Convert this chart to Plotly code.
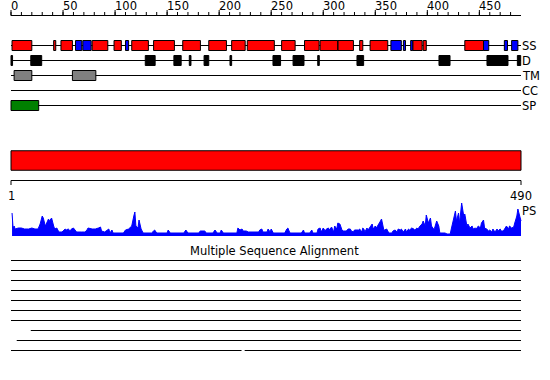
import plotly.graph_objects as go

SEQ_LEN = 490

# ---------------- data (residue positions) ----------------
ss_helix = [(1, 20), (41, 43), (48, 59), (78, 93), (99, 106), (116, 132), (137, 157),
            (165, 182), (190, 207), (212, 225), (227, 253), (260, 273), (282, 296),
            (297, 314), (314, 329), (335, 338), (345, 362), (386, 395), (396, 399),
            (436, 454)]
ss_strand = [(62, 68), (69, 77), (110, 113), (365, 375), (377, 379), (384, 386),
             (454, 459), (474, 477), (481, 487)]
disorder = [(0, 1.5), (19, 29.5), (129, 138.5), (156.5, 163.5), (171.3, 172.9),
            (185.5, 190), (210.4, 212), (251.7, 259), (271, 281.5), (294.7, 296.2),
            (332.4, 338.8), (411.2, 421.8), (457.3, 477.5), (486.5, 489.7)]
transmembrane = [(3, 20), (59, 81.5)]
coiled_coil = []
signal_peptide = [(0, 26.6)]
domains = [(0, 490)]

ruler_major = [0, 50, 100, 150, 200, 250, 300, 350, 400, 450]
ruler_minor = list(range(0, 490, 10))
track_labels = ["SS", "D", "TM", "CC", "SP"]

ps_res = [1, 2, 3, 4, 7, 10, 13, 17, 20, 23, 26, 28, 30, 31, 33, 34, 36, 37, 39, 41,
          42, 44, 46, 49, 52, 53, 55, 57, 58, 60, 63, 68, 71, 73, 74, 78, 81, 84, 86, 87,
          90, 94, 95, 97, 98, 108, 110, 113, 114, 116, 118, 119, 120, 122, 123, 125, 127,
          135, 137, 138, 140, 150, 151, 153, 166, 168, 170, 180, 182, 186, 188, 194, 196,
          198, 201, 202, 204, 217, 218, 220, 222, 223, 226, 228, 238, 239, 241, 242, 246,
          247, 249, 250, 252, 263, 265, 266, 268, 279, 281, 282, 287, 289, 290, 294, 295,
          297, 298, 300, 302, 303, 305, 306, 308, 310, 311, 313, 314, 316, 318, 319, 322,
          324, 326, 327, 329, 330, 334, 335, 337, 338, 339, 340, 342, 343, 345, 347, 348,
          350, 351, 353, 355, 356, 358, 359, 361, 363, 366, 367, 369, 371, 372, 374, 375,
          377, 379, 380, 382, 383, 385, 387, 388, 390, 391, 393, 395, 396, 398, 399, 401,
          403, 404, 406, 407, 409, 411, 412, 417, 419, 422, 423, 425, 427, 428, 430, 431,
          433, 435, 436, 438, 439, 441, 443, 444, 446, 447, 449, 451, 452, 454, 455, 457,
          459, 460, 462, 463, 465, 467, 468, 470, 471, 473, 475, 476, 478, 479, 481, 483,
          484, 486, 487, 489, 490]
ps_val = [23, 8, 10, 7, 8, 8, 7, 7, 8, 7, 7, 12, 20, 18, 10, 13, 17, 15, 18, 10,
          7, 8, 4, 4, 7, 6, 7, 5, 7, 8, 4, 4, 4, 6, 8, 7, 7, 8, 9, 5,
          4, 7, 3, 6, 3, 3, 6, 7, 8, 10, 20, 24, 10, 8, 16, 7, 3,
          3, 5, 6, 3, 3, 6, 3, 3, 6, 3, 3, 5, 5, 3, 3, 6,
          3, 3, 6, 3, 3, 8, 6, 7, 5, 5, 4, 4, 6, 7, 4, 4,
          7, 4, 7, 3, 3, 7, 8, 3, 3, 6, 3, 3, 6, 3, 3, 7,
          8, 4, 8, 5, 7, 8, 6, 9, 4, 10, 7, 13, 12, 6, 5, 5,
          7, 7, 5, 4, 6, 6, 7, 4, 8, 7, 4, 8, 6, 9, 12, 7,
          10, 8, 11, 15, 17, 7, 6, 7, 3, 3, 5, 6, 4, 7, 6, 7,
          4, 7, 4, 7, 6, 8, 7, 6, 8, 7, 10, 12, 15, 10, 21, 13,
          18, 10, 7, 8, 15, 10, 3, 3, 2, 2, 7, 18, 25, 15, 23, 13,
          33, 20, 22, 10, 12, 8, 10, 7, 8, 7, 10, 8, 13, 16, 8, 7,
          5, 6, 4, 7, 4, 7, 5, 7, 5, 5, 8, 10, 7, 10, 8, 9,
          13, 20, 27, 20, 15]

msa_rows = [[(0, 490)]] * 7 + [[(19, 490)], [(5.5, 490)], [(0, 221.5), (224.5, 490)]]

# ---------------- layout constants (pixels) ----------------
W, H = 550, 380
X0_PX, PX_PER_RES = 11, 510 / 490
XR = [(0 - X0_PX) / PX_PER_RES, (W - X0_PX) / PX_PER_RES]
FONT = dict(family="DejaVu Sans", size=11.5, color="black")

row_y = {"SS": 45.5, "D": 60.5, "TM": 75.5, "CC": 90.5, "SP": 105.5}
BOX_H = 10

fig = go.Figure()


def seg_trace(segs, color="black", width=1):
    xs, ys = [], []
    for (xa, ya, xb, yb) in segs:
        xs += [xa, xb, None]
        ys += [ya, yb, None]
    fig.add_trace(go.Scatter(x=xs, y=ys, mode="lines", hoverinfo="skip",
                             line=dict(color=color, width=width), showlegend=False))


def box_trace(spans, yc, h, color):
    if not spans:
        return
    xs, ys = [], []
    for a, b in spans:
        xs += [a, b, b, a, a, None]
        ys += [yc - h / 2, yc - h / 2, yc + h / 2, yc + h / 2, yc - h / 2, None]
    fig.add_trace(go.Scatter(x=xs, y=ys, mode="lines", fill="toself", fillcolor=color,
                             line=dict(color="black", width=1), hoverinfo="skip",
                             showlegend=False))


# top ruler
seg_trace([(0, 15.5, SEQ_LEN, 15.5)])
seg_trace([(t, 12, t, 15.5) for t in ruler_minor] + [(t, 10, t, 15.5) for t in ruler_major])
for t in ruler_major:
    fig.add_annotation(x=t, y=6, xref="x", yref="y", text=str(t), showarrow=False,
                       xanchor="left", yanchor="middle", xshift=-2, font=FONT)

# track baselines
seg_trace([(0, row_y[k], SEQ_LEN, row_y[k]) for k in track_labels])
box_trace(ss_helix, row_y["SS"], BOX_H, "#ff0000")
box_trace(ss_strand, row_y["SS"], BOX_H, "#0000ff")
box_trace(disorder, row_y["D"], BOX_H, "#000000")
box_trace(transmembrane, row_y["TM"], BOX_H, "#808080")
box_trace(coiled_coil, row_y["CC"], BOX_H, "#ffff00")
box_trace(signal_peptide, row_y["SP"], BOX_H, "#008000")
for k in track_labels:
    fig.add_annotation(x=SEQ_LEN, y=row_y[k], xref="x", yref="y", text=k, showarrow=False,
                       xanchor="left", yanchor="middle", xshift=-1, font=FONT)

# domain bar
box_trace(domains, 160.5, 19.5, "#ff0000")

# second ruler
seg_trace([(0, 180.5, SEQ_LEN, 180.5), (0, 180.5, 0, 185), (SEQ_LEN, 180.5, SEQ_LEN, 185)])
fig.add_annotation(x=0, y=195.5, xref="x", yref="y", text="1", showarrow=False,
                   xanchor="center", yanchor="middle", font=FONT)
fig.add_annotation(x=SEQ_LEN, y=195.5, xref="x", yref="y", text=str(SEQ_LEN), showarrow=False,
                   xanchor="center", yanchor="middle", font=FONT)

# PS profile
fig.add_trace(go.Scatter(x=ps_res, y=ps_val, yaxis="y2", mode="lines", fill="tozeroy",
                         fillcolor="#0000ff", line=dict(color="#0000ff", width=1),
                         hoverinfo="skip", showlegend=False))
fig.add_annotation(x=SEQ_LEN, y=211, xref="x", yref="y", text="PS", showarrow=False,
                   xanchor="left", yanchor="middle", xshift=-1, font=FONT)

# MSA
fig.add_annotation(x=253, y=250.5, xref="x", yref="y", text="Multiple Sequence Alignment",
                   showarrow=False, xanchor="center", yanchor="middle", font=FONT)
msa_segs = []
for i, row in enumerate(msa_rows):
    yy = 260.5 + 10 * i
    for a, b in row:
        msa_segs.append((a, yy, b, yy))
seg_trace(msa_segs)

fig.update_layout(
    width=W, height=H, margin=dict(l=0, r=0, t=0, b=0),
    paper_bgcolor="white", plot_bgcolor="white", showlegend=False,
    xaxis=dict(range=XR, visible=False, fixedrange=True),
    yaxis=dict(range=[H, 0], visible=False, fixedrange=True, domain=[0, 1]),
    yaxis2=dict(range=[0, 40], visible=False, fixedrange=True, anchor="x",
                domain=[(H - 236) / H, (H - 196) / H]),
)

fig.write_html("out.html")
